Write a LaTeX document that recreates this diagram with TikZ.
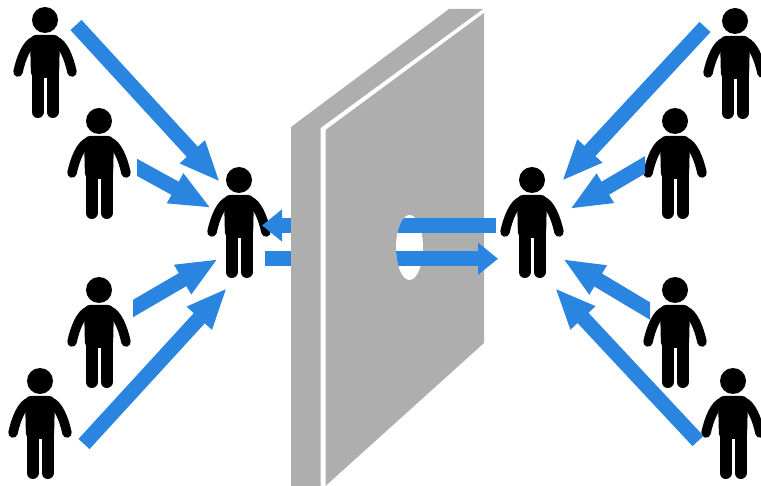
\documentclass[tikz,border=0pt]{standalone}
\usepackage{tikz}
\usetikzlibrary{arrows.meta}
\definecolor{wallgray}{HTML}{AEAEAE}
\definecolor{arrowblue}{HTML}{2A85E0}
\tikzset{
  bluearrow/.style={draw=arrowblue,line width=15pt,
    -{Triangle[length=41pt,width=31pt,fill=arrowblue]}},
  flatarrow/.style={draw=arrowblue,line width=15.5pt,
    -{Triangle[length=20pt,width=31pt,fill=arrowblue]}},
  limb/.style={draw=black,line cap=round},
  person/.pic={
    \fill[black] (0,0) circle (13);
    \fill[black,rounded corners=6pt] (-15,15) -- (15,15) -- (14,58) -- (-14,58) -- cycle;
    \draw[limb,line width=12pt] (-7.5,50) -- (-7.5,92);
    \draw[limb,line width=12pt] (7.5,50) -- (7.5,92);
    \draw[limb,line width=9.5pt] (-10,21) .. controls (-18,23) and (-24,38) .. (-27,52);
    \draw[limb,line width=9.5pt] (10,21) .. controls (18,23) and (24,38) .. (27,52);
  }
}
\begin{document}
\begin{tikzpicture}[x=1pt,y=-1pt]
\useasboundingbox (0,0) rectangle (761,486);
% people, given by head centre
\foreach \x/\y in {45/20, 99/121, 99/290, 40/381, 239/180,
                   532/180, 735/21, 675/121, 675/290, 733/381}{
  \pic at (\x,\y) {person};}
% long arrows from the outer people
\foreach \xa/\ya/\xb/\yb in {76/25/220/182, 84/444/227/288,
                             705/27/562/181, 698/441/555/288}{
  \draw[bluearrow] (\xa,\ya) -- (\xb,\yb);}
% short arrows, tails cut upright
\foreach \xc/\xa/\ya/\xb/\yb in {137/120/158/211/208, 133/115/319/218/259,
                                 645/660/156/570/209, 650/665/320/563/259}{
  \begin{scope}
    \ifnum\xc<400 \clip (\xc,0) rectangle (400,486); \else \clip (400,0) rectangle (\xc,486); \fi
    \draw[bluearrow] (\xa,\ya) -- (\xb,\yb);
  \end{scope}}
% arrows on the left of the wall
\draw[flatarrow] (300,225.5) -- (262,225.5);
\fill[arrowblue] (265,251) rectangle (300,266.5);
% wall
\fill[wallgray] (291,127) -- (449,9) -- (483,9) -- (320.5,128) -- (320.5,486) -- (291,486) -- cycle;
\fill[wallgray] (484,13) -- (484,343) -- (325.5,486) -- (325.5,130) -- cycle;
% hole
\fill[white] (409.5,247.5) ellipse (13.5 and 32.5);
\begin{scope}
  \clip (409.5,247.5) ellipse (13.5 and 32.5);
  \fill[arrowblue] (390,218) rectangle (410,233);
  \fill[arrowblue] (390,251) rectangle (410,266.5);
\end{scope}
% arrows through the hole
\fill[arrowblue] (409.5,218) rectangle (496,233);
\draw[flatarrow] (409.5,258.75) -- (498,258.75);
\end{tikzpicture}
\end{document}
